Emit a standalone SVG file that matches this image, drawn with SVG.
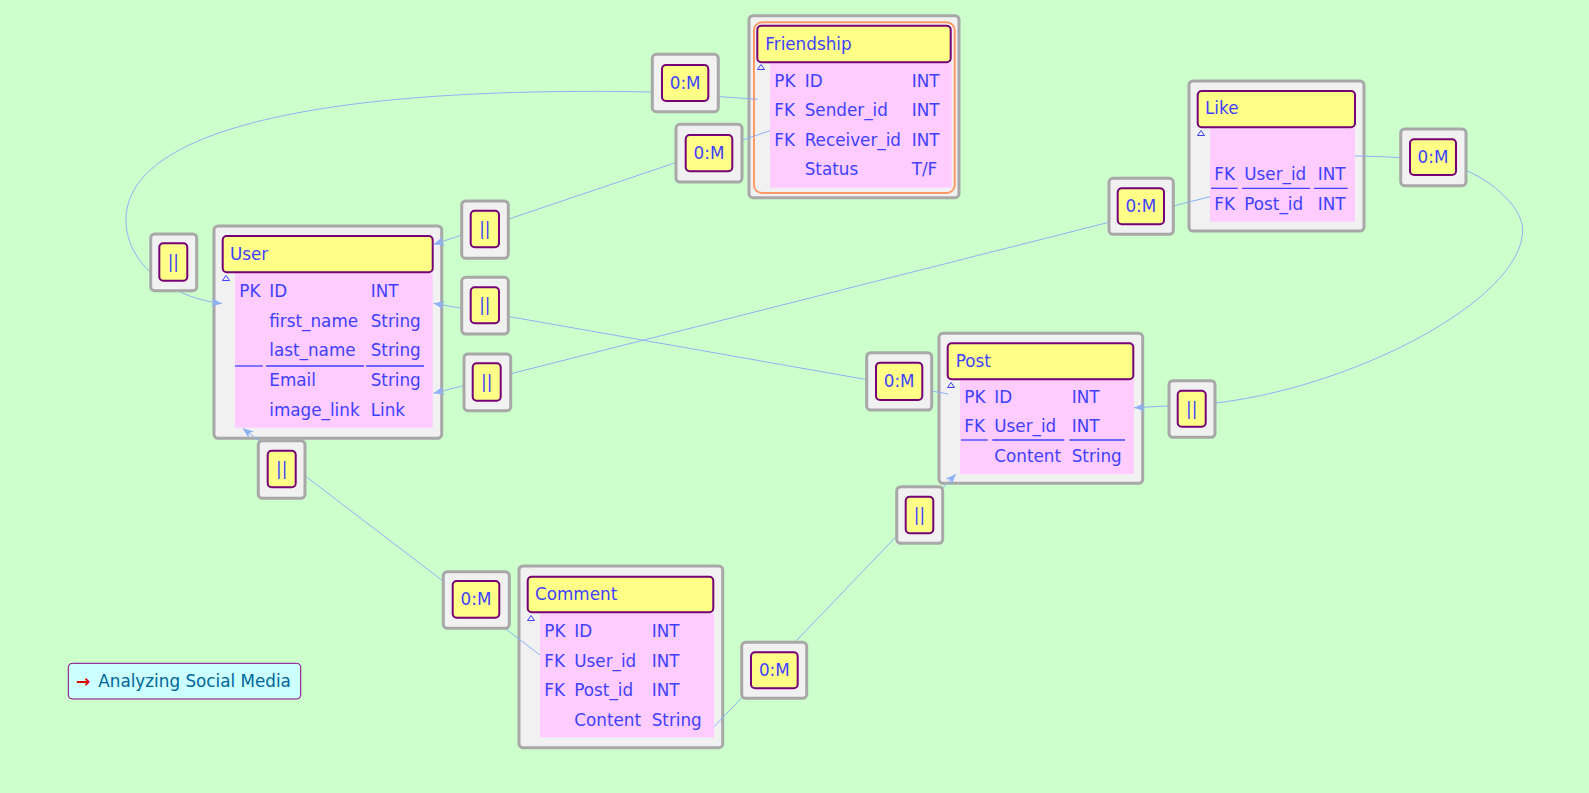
<svg xmlns="http://www.w3.org/2000/svg" width="1589" height="793" viewBox="0 0 1589 793">
<defs>
<style>
.outer{fill:#f1f1f1;stroke:#a8a8a8;stroke-width:3}
.hdr{fill:#ffff88;stroke:#770077;stroke-width:2}
.body{fill:#ffccff;stroke:none}
.t{font-family:"DejaVu Sans","Liberation Sans",sans-serif;font-size:16.8px;fill:#3f3fff}
.tri{fill:none;stroke:#3f3fff;stroke-width:1}
.sep{stroke:#3f3fff;stroke-width:1.3}
.lk{fill:none;stroke:#8fb0f4;stroke-width:1}
.lbo{fill:#f1f1f1;stroke:#a8a8a8;stroke-width:3}
.lbi{fill:#ffff88;stroke:#770077;stroke-width:2}
</style>
<marker id="ah" viewBox="0 0 10 8" markerWidth="11" markerHeight="9" refX="10" refY="4" orient="auto" markerUnits="userSpaceOnUse">
<path d="M0,0 L10,4 L0,8 L3,4 z" fill="#8fb0f4"/>
</marker>
</defs>
<rect x="0" y="0" width="1589" height="793" fill="#ccffcc"/>

<g id="Friendship">
<rect class="outer" x="749" y="15.7" width="210" height="182" rx="4"/>
<rect x="754" y="22.3" width="200.7" height="170.7" rx="8" fill="none" stroke="#ff9966" stroke-width="2"/>
<rect class="body" x="770" y="63.3" width="181.7" height="124.4"/>
<rect class="hdr" x="757.3" y="25.7" width="193.4" height="36.6" rx="4"/>
<text class="t" x="765.3" y="50">Friendship</text>
<polygon class="tri" points="757.5,69.5 761,64.5 764.5,69.5"/>
<text class="t" x="774.3" y="86.7">PK</text><text class="t" x="804.7" y="86.7">ID</text><text class="t" x="911.7" y="86.7">INT</text>
<text class="t" x="774.3" y="116">FK</text><text class="t" x="804.7" y="116">Sender_id</text><text class="t" x="911.7" y="116">INT</text>
<text class="t" x="774.3" y="145.5">FK</text><text class="t" x="804.7" y="145.5">Receiver_id</text><text class="t" x="911.7" y="145.5">INT</text>
<text class="t" x="804.7" y="175">Status</text><text class="t" x="911.7" y="175">T/F</text>
</g>

<g id="User">
<rect class="outer" x="214" y="226" width="227.7" height="212.3" rx="4"/>
<rect class="body" x="235" y="273.3" width="197.7" height="154.4"/>
<rect class="hdr" x="222.7" y="236" width="210" height="36.3" rx="4"/>
<text class="t" x="230" y="260">User</text>
<polygon class="tri" points="222.5,280.5 226,275.5 229.5,280.5"/>
<text class="t" x="239.3" y="296.7">PK</text><text class="t" x="269.3" y="296.7">ID</text><text class="t" x="370.7" y="296.7">INT</text>
<text class="t" x="269.3" y="326.7">first_name</text><text class="t" x="370.7" y="326.7">String</text>
<text class="t" x="269.3" y="356">last_name</text><text class="t" x="370.7" y="356">String</text>
<line class="sep" x1="235" y1="366" x2="262.7" y2="366"/><line class="sep" x1="266" y1="366" x2="364" y2="366"/><line class="sep" x1="366" y1="366" x2="424" y2="366"/>
<text class="t" x="269.3" y="386">Email</text><text class="t" x="370.7" y="386">String</text>
<text class="t" x="269.3" y="415.7">image_link</text><text class="t" x="370.7" y="415.7">Link</text>
</g>

<g id="Like">
<rect class="outer" x="1189" y="81" width="175" height="150" rx="4"/>
<rect class="body" x="1210" y="128.3" width="145" height="93.4"/>
<rect class="hdr" x="1197.7" y="91" width="157.3" height="36.3" rx="4"/>
<text class="t" x="1205" y="114.3">Like</text>
<polygon class="tri" points="1197.5,135.5 1201,130.5 1204.5,135.5"/>
<text class="t" x="1214.3" y="180">FK</text><text class="t" x="1244.3" y="180">User_id</text><text class="t" x="1317.7" y="180">INT</text>
<line class="sep" x1="1211" y1="188.3" x2="1237.7" y2="188.3"/><line class="sep" x1="1242.3" y1="188.3" x2="1310" y2="188.3"/><line class="sep" x1="1314" y1="188.3" x2="1347.7" y2="188.3"/>
<text class="t" x="1214.3" y="210">FK</text><text class="t" x="1244.3" y="210">Post_id</text><text class="t" x="1317.7" y="210">INT</text>
</g>

<g id="Post">
<rect class="outer" x="939" y="333.3" width="203.7" height="150" rx="4"/>
<rect class="body" x="960" y="380" width="174" height="94"/>
<rect class="hdr" x="947.7" y="343.3" width="185.6" height="36" rx="4"/>
<text class="t" x="955.7" y="366.7">Post</text>
<polygon class="tri" points="947.5,387.5 951,382.5 954.5,387.5"/>
<text class="t" x="964.3" y="402.7">PK</text><text class="t" x="994.3" y="402.7">ID</text><text class="t" x="1071.7" y="402.7">INT</text>
<text class="t" x="964.3" y="432.3">FK</text><text class="t" x="994.3" y="432.3">User_id</text><text class="t" x="1071.7" y="432.3">INT</text>
<line class="sep" x1="961" y1="440" x2="987.7" y2="440"/><line class="sep" x1="992.3" y1="440" x2="1064.3" y2="440"/><line class="sep" x1="1069.3" y1="440" x2="1125" y2="440"/>
<text class="t" x="994.3" y="462.3">Content</text><text class="t" x="1071.7" y="462.3">String</text>
</g>

<g id="Comment">
<rect class="outer" x="519" y="566" width="203.7" height="181.7" rx="4"/>
<rect class="body" x="540" y="613.3" width="174" height="124"/>
<rect class="hdr" x="527.7" y="576.7" width="185.6" height="35.6" rx="4"/>
<text class="t" x="535" y="600">Comment</text>
<polygon class="tri" points="527.5,620.5 531,615.5 534.5,620.5"/>
<text class="t" x="544.3" y="637.3">PK</text><text class="t" x="574.3" y="637.3">ID</text><text class="t" x="651.7" y="637.3">INT</text>
<text class="t" x="544.3" y="666.7">FK</text><text class="t" x="574.3" y="666.7">User_id</text><text class="t" x="651.7" y="666.7">INT</text>
<text class="t" x="544.3" y="696">FK</text><text class="t" x="574.3" y="696">Post_id</text><text class="t" x="651.7" y="696">INT</text>
<text class="t" x="574.3" y="726">Content</text><text class="t" x="651.7" y="726">String</text>
</g>

<g id="connectors">
<path class="lk" marker-end="url(#ah)" d="M757.7,99.3 L652,92 C340,86 126,125 126,220 C126,265 172,298 222,303.5"/>
<path class="lk" marker-end="url(#ah)" d="M770,130.7 L433.5,244.5"/>
<path class="lk" marker-end="url(#ah)" d="M1355,156 C1400,157 1425,158 1456.7,167.3 C1485,175 1522.7,205 1522.7,230 C1522.7,300 1350,390 1206.7,404 L1134,407.7"/>
<path class="lk" marker-end="url(#ah)" d="M1210,196.7 L433.5,393.3"/>
<path class="lk" marker-end="url(#ah)" d="M948.3,394 L433.5,303.3"/>
<path class="lk" marker-end="url(#ah)" d="M540,655 L242.7,428.3"/>
<path class="lk" marker-end="url(#ah)" d="M714,726.7 L956,474"/>
</g>

<g id="labels">
<g id="lbl1"><rect class="lbo" x="652.3" y="54.3" width="66" height="57.4" rx="4"/><rect class="lbi" x="662" y="65" width="46.3" height="36" rx="4"/><text class="t" x="685.2" y="89" text-anchor="middle">0:M</text></g>
<g id="lbl2"><rect class="lbo" x="676" y="124.3" width="66" height="57.7" rx="4"/><rect class="lbi" x="685.7" y="135" width="46.6" height="36.3" rx="4"/><text class="t" x="709" y="159" text-anchor="middle">0:M</text></g>
<g id="lbl3"><rect class="lbo" x="150.7" y="234" width="46" height="56.7" rx="4"/><rect class="lbi" x="159.3" y="243.3" width="28" height="37.4" rx="4"/><text class="t" x="173.3" y="268" text-anchor="middle">||</text></g>
<g id="lbl4"><rect class="lbo" x="461.7" y="201" width="46.6" height="57.3" rx="4"/><rect class="lbi" x="470.7" y="210.7" width="28.3" height="36.6" rx="4"/><text class="t" x="484.8" y="235" text-anchor="middle">||</text></g>
<g id="lbl5"><rect class="lbo" x="461.7" y="277.3" width="46.6" height="56.7" rx="4"/><rect class="lbi" x="470.7" y="287.3" width="28.3" height="36" rx="4"/><text class="t" x="484.8" y="311.3" text-anchor="middle">||</text></g>
<g id="lbl6"><rect class="lbo" x="464" y="354" width="46.7" height="56.7" rx="4"/><rect class="lbi" x="472.7" y="363.3" width="28" height="37.4" rx="4"/><text class="t" x="486.7" y="388" text-anchor="middle">||</text></g>
<g id="lbl7"><rect class="lbo" x="258.3" y="440.7" width="46.7" height="57.6" rx="4"/><rect class="lbi" x="267.7" y="450.7" width="28" height="36.6" rx="4"/><text class="t" x="281.7" y="475" text-anchor="middle">||</text></g>
<g id="lbl8"><rect class="lbo" x="1400.7" y="129" width="65.3" height="56.7" rx="4"/><rect class="lbi" x="1410" y="139.3" width="46" height="35.7" rx="4"/><text class="t" x="1433" y="163" text-anchor="middle">0:M</text></g>
<g id="lbl9"><rect class="lbo" x="1109" y="178.3" width="64.3" height="56" rx="4"/><rect class="lbi" x="1117.7" y="188.3" width="46.3" height="36" rx="4"/><text class="t" x="1140.8" y="212.3" text-anchor="middle">0:M</text></g>
<g id="lbl10"><rect class="lbo" x="866.7" y="352.7" width="65" height="57.3" rx="4"/><rect class="lbi" x="876" y="362.7" width="46.3" height="37.3" rx="4"/><text class="t" x="899.2" y="387.3" text-anchor="middle">0:M</text></g>
<g id="lbl11"><rect class="lbo" x="1169" y="380.7" width="46" height="56.6" rx="4"/><rect class="lbi" x="1177.7" y="390.7" width="28" height="36" rx="4"/><text class="t" x="1191.7" y="414.7" text-anchor="middle">||</text></g>
<g id="lbl12"><rect class="lbo" x="896.7" y="486.7" width="46" height="56.6" rx="4"/><rect class="lbi" x="905.7" y="496.7" width="27.6" height="36.6" rx="4"/><text class="t" x="919.5" y="521" text-anchor="middle">||</text></g>
<g id="lbl13"><rect class="lbo" x="443.3" y="571.7" width="66" height="56.6" rx="4"/><rect class="lbi" x="452.7" y="581" width="46.6" height="36.7" rx="4"/><text class="t" x="476" y="605.3" text-anchor="middle">0:M</text></g>
<g id="lbl14"><rect class="lbo" x="741.7" y="642.3" width="65" height="56" rx="4"/><rect class="lbi" x="751" y="652.3" width="46.7" height="36" rx="4"/><text class="t" x="774.3" y="676.3" text-anchor="middle">0:M</text></g>
</g>

<g id="legend">
<rect x="68.3" y="663.3" width="232.4" height="35.7" rx="4" fill="#ccffff" stroke="#880088" stroke-width="1"/>
<text x="76" y="686.7" font-family="DejaVu Sans, sans-serif" font-size="17" font-weight="bold" fill="#dd0000">→</text>
<text x="98.3" y="686.7" font-family="DejaVu Sans, sans-serif" font-size="16.8" fill="#006699">Analyzing Social Media</text>
</g>
</svg>
